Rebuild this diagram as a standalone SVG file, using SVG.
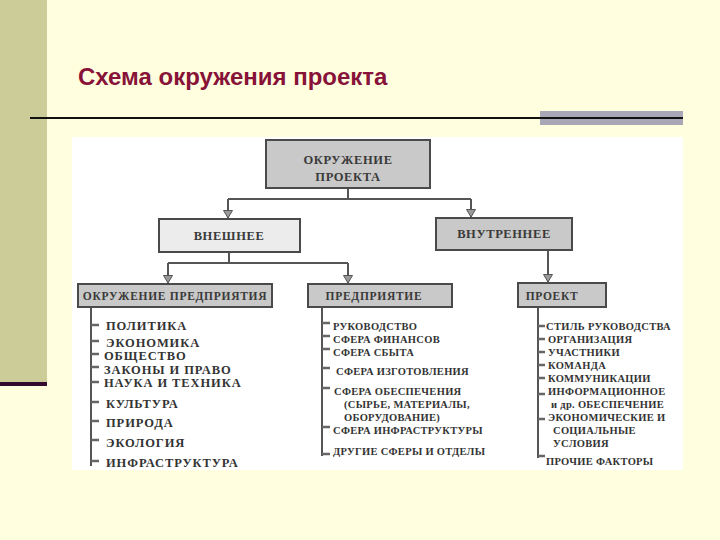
<svg xmlns="http://www.w3.org/2000/svg" width="720" height="540" viewBox="0 0 720 540">
<defs>
<style>
.title{font-family:"Liberation Sans",Arial,sans-serif;font-weight:bold;font-size:24px;fill:#881338}
.bx{stroke:#4a4a4a;stroke-width:2;fill:#c9c9c9}
.bxl{stroke:#4a4a4a;stroke-width:2;fill:#ececec}
.bt{font-family:"Liberation Serif","Times New Roman",serif;font-weight:bold;font-size:12.5px;fill:#3a3a3a;letter-spacing:0.6px;text-anchor:middle}
.bts{font-size:11.5px;letter-spacing:0.7px}
.it{font-family:"Liberation Serif","Times New Roman",serif;font-weight:bold;font-size:10.5px;fill:#333;letter-spacing:0.3px}
.itl{font-family:"Liberation Serif","Times New Roman",serif;font-weight:bold;font-size:12.5px;fill:#333;letter-spacing:0.9px}
.ln{stroke:#555;stroke-width:2;fill:none}
.tk{stroke:#666;stroke-width:2.5;fill:none}
</style>
<marker id="ah" markerWidth="10" markerHeight="9" refX="5" refY="8" markerUnits="userSpaceOnUse" viewBox="0 0 10 9">
<path d="M0.5,0.5 L9.5,0.5 L5,8 Z" fill="#9a9a9a" stroke="#555" stroke-width="1"/>
</marker>
</defs>
<rect width="720" height="540" fill="#ffffe0"/>
<rect x="0" y="0" width="47" height="382" fill="#cccc99"/>
<rect x="0" y="382" width="47" height="4" fill="#330a30"/>
<text class="title" x="78" y="85">Схема окружения проекта</text>
<rect x="540" y="111" width="143" height="14" fill="#a9a6b6"/>
<line x1="30" y1="118" x2="683" y2="118" stroke="#111" stroke-width="2"/>
<rect x="72" y="137" width="611" height="333" fill="#ffffff"/>

<g id="connectors">
<path class="ln" d="M348,188 V199 M228,199 H471"/>
<path class="ln" d="M228,199 V218" marker-end="url(#ah)"/>
<path class="ln" d="M471,199 V217" marker-end="url(#ah)"/>
<path class="ln" d="M229,252 V263 M168,263 H348"/>
<path class="ln" d="M168,263 V283" marker-end="url(#ah)"/>
<path class="ln" d="M348,263 V283" marker-end="url(#ah)"/>
<path class="ln" d="M548,250 V282" marker-end="url(#ah)"/>
<path class="ln" d="M91,307 V466"/>
<path class="ln" d="M322,307 V456"/>
<path class="ln" d="M538,307 V458"/>
<path class="tk" d="M91,325 h8 M91,341 h8 M91,354 h8 M91,367 h8 M91,382 h8 M91,402 h8 M91,421 h8 M91,440 h8 M91,461 h8"/>
<path class="tk" d="M322,323 h8 M322,336 h8 M322,349 h8 M322,368 h8 M322,388 h8 M322,427 h8 M322,454 h8"/>
<path class="tk" d="M538,326 h7 M538,339 h7 M538,352 h7 M538,365 h7 M538,378 h7 M538,394 h7 M538,419 h7 M538,456 h7"/>
</g>

<g id="n-root">
<rect class="bx" x="266" y="140" width="164" height="48"/>
<text class="bt" x="348" y="164">ОКРУЖЕНИЕ</text>
<text class="bt" x="348" y="181">ПРОЕКТА</text>
</g>
<g id="n-ext">
<rect class="bxl" x="159" y="219" width="141" height="33"/>
<text class="bt" x="229" y="240">ВНЕШНЕЕ</text>
</g>
<g id="n-int">
<rect class="bx" x="436" y="218" width="136" height="32"/>
<text class="bt" x="504" y="238">ВНУТРЕННЕЕ</text>
</g>
<g id="n-env">
<rect class="bx" x="78" y="284" width="194" height="23"/>
<text class="bt bts" x="175" y="300">ОКРУЖЕНИЕ ПРЕДПРИЯТИЯ</text>
</g>
<g id="n-ent">
<rect class="bx" x="308" y="284" width="144" height="23"/>
<text class="bt bts" x="374" y="300">ПРЕДПРИЯТИЕ</text>
</g>
<g id="n-proj">
<rect class="bx" x="518" y="283" width="88" height="24"/>
<text class="bt bts" x="552" y="300">ПРОЕКТ</text>
</g>

<g id="list-env">
<text class="itl" x="106" y="330">ПОЛИТИКА</text>
<text class="itl" x="106" y="347">ЭКОНОМИКА</text>
<text class="itl" x="104" y="360">ОБЩЕСТВО</text>
<text class="itl" x="104" y="374">ЗАКОНЫ И ПРАВО</text>
<text class="itl" x="104" y="387">НАУКА И ТЕХНИКА</text>
<text class="itl" x="106" y="408">КУЛЬТУРА</text>
<text class="itl" x="106" y="427">ПРИРОДА</text>
<text class="itl" x="106" y="447">ЭКОЛОГИЯ</text>
<text class="itl" x="106" y="467">ИНФРАСТРУКТУРА</text>
</g>
<g id="list-ent">
<text class="it" x="333" y="330">РУКОВОДСТВО</text>
<text class="it" x="333" y="343">СФЕРА ФИНАНСОВ</text>
<text class="it" x="333" y="356">СФЕРА СБЫТА</text>
<text class="it" x="336" y="375">СФЕРА ИЗГОТОВЛЕНИЯ</text>
<text class="it" x="334" y="395">СФЕРА ОБЕСПЕЧЕНИЯ</text>
<text class="it" x="344" y="408">(СЫРЬЕ, МАТЕРИАЛЫ,</text>
<text class="it" x="344" y="421">ОБОРУДОВАНИЕ)</text>
<text class="it" x="333" y="434">СФЕРА ИНФРАСТРУКТУРЫ</text>
<text class="it" x="333" y="455">ДРУГИЕ СФЕРЫ И ОТДЕЛЫ</text>
</g>
<g id="list-proj">
<text class="it" x="546" y="330">СТИЛЬ РУКОВОДСТВА</text>
<text class="it" x="548" y="343">ОРГАНИЗАЦИЯ</text>
<text class="it" x="548" y="356">УЧАСТНИКИ</text>
<text class="it" x="548" y="369">КОМАНДА</text>
<text class="it" x="548" y="382">КОММУНИКАЦИИ</text>
<text class="it" x="548" y="395">ИНФОРМАЦИОННОЕ</text>
<text class="it" x="551" y="408">и др.   ОБЕСПЕЧЕНИЕ</text>
<text class="it" x="548" y="421">ЭКОНОМИЧЕСКИЕ И</text>
<text class="it" x="553" y="434">СОЦИАЛЬНЫЕ</text>
<text class="it" x="553" y="447">УСЛОВИЯ</text>
<text class="it" x="546" y="465">ПРОЧИЕ ФАКТОРЫ</text>
</g>
</svg>
